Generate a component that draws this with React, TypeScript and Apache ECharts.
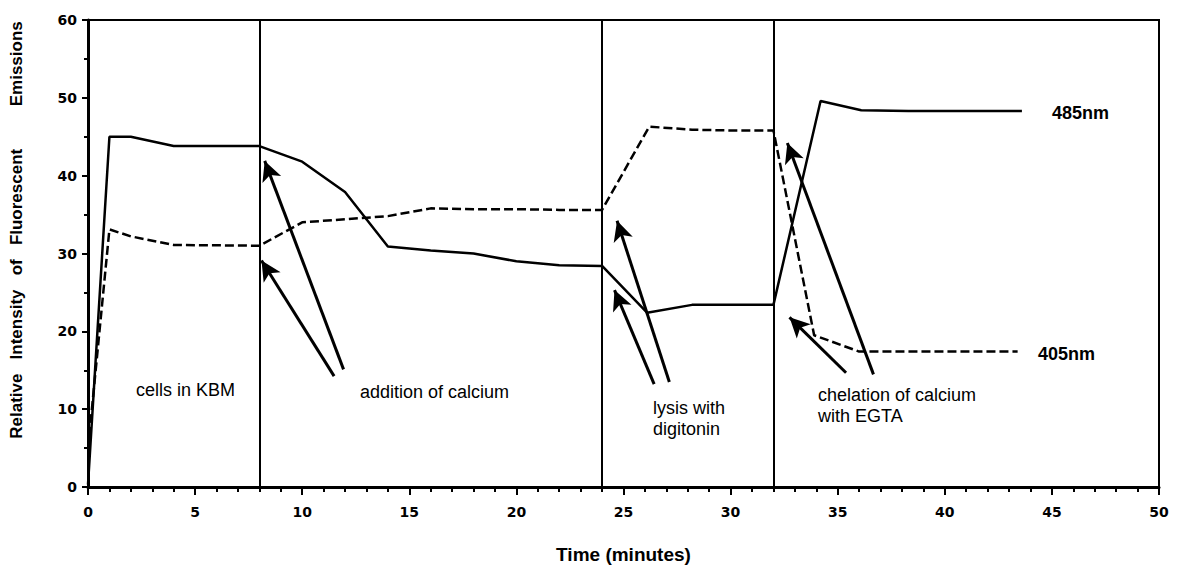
import React, { useEffect, useRef } from "react";
import * as echarts from "echarts";

// 485 nm emission (solid line)
const time485 = [0, 1, 2, 4, 8, 10, 12, 14, 16, 18, 20, 22, 24, 26.1, 28.2, 32, 34.2, 36.1, 38.3, 40.3, 42.1, 43.6];
const intensity485 = [0.3, 45, 45, 43.8, 43.8, 41.8, 37.9, 30.9, 30.4, 30, 29, 28.5, 28.4, 22.4, 23.4, 23.4, 49.6, 48.4, 48.3, 48.3, 48.3, 48.3];

// 405 nm emission (dashed line)
const time405 = [0, 1, 2, 4, 8, 10, 12, 14, 16, 18, 20, 22, 24, 26.2, 28.2, 30.2, 32, 33.9, 36, 38, 40, 42, 43.4];
const intensity405 = [4.9, 33.1, 32.2, 31.1, 31, 34, 34.4, 34.8, 35.8, 35.7, 35.7, 35.6, 35.6, 46.3, 45.9, 45.8, 45.8, 19.5, 17.4, 17.4, 17.4, 17.4, 17.4];

// experimental events (minutes)
const eventTimes = [8, 24, 32];

// annotation arrows: tail -> tip, in data units
const arrowTails = [
  [11.93, 15.11],
  [11.49, 14.25],
  [27.14, 13.48],
  [26.43, 13.22],
  [36.67, 14.47],
  [35.39, 14.68],
];
const arrowTips = [
  [8.25, 41.9],
  [8.1, 29.1],
  [24.7, 34.2],
  [24.58, 25.3],
  [32.65, 44.2],
  [32.75, 21.8],
];

const xMin = 0;
const xMax = 50;
const xInterval = 5;
const yMin = 0;
const yMax = 60;
const yInterval = 10;

const yTitle =
  "Relative\u00A0\u00A0\u00A0Intensity\u00A0\u00A0\u00A0of\u00A0\u00A0\u00A0Fluorescent\u00A0\u00A0\u00A0\u00A0\u00A0\u00A0\u00A0\u00A0\u00A0Emissions";
const xTitle = "Time (minutes)";

const zip = (xs: number[], ys: number[]) => xs.map((x, i) => [x, ys[i]]);

export default function App() {
  const ref = useRef<HTMLDivElement>(null);
  useEffect(() => {
    document.body.style.margin = "0";
    const chart = echarts.init(ref.current!, null, { renderer: "svg" });
    const annoFont = { fontFamily: "Liberation Sans", fontSize: 18, fill: "#000" };
    chart.setOption({
      animation: false,
      backgroundColor: "#fff",
      grid: {
        left: 88,
        right: 27,
        top: 20,
        bottom: 81,
        show: true,
        borderColor: "#000",
        borderWidth: 2,
        backgroundColor: "transparent",
      },
      xAxis: {
        type: "value",
        min: xMin,
        max: xMax,
        interval: xInterval,
        axisLine: { show: true, onZero: false, lineStyle: { color: "#000", width: 3 } },
        axisTick: { show: true, length: 8, lineStyle: { color: "#000", width: 2 } },
        minorTick: { show: true, splitNumber: 5, length: 5, lineStyle: { color: "#000", width: 2 } },
        splitLine: { show: false },
        minorSplitLine: { show: false },
        axisLabel: { color: "#000", fontFamily: "DejaVu Sans", fontWeight: "bold", fontSize: 14, margin: 18 },
        name: xTitle,
        nameLocation: "middle",
        nameGap: 58,
        nameTextStyle: { color: "#000", fontFamily: "Liberation Sans", fontWeight: "bold", fontSize: 19 },
      },
      yAxis: {
        type: "value",
        min: yMin,
        max: yMax,
        interval: yInterval,
        axisLine: { show: true, onZero: false, lineStyle: { color: "#000", width: 3 } },
        axisTick: { show: true, length: 6, lineStyle: { color: "#000", width: 2 } },
        minorTick: { show: true, splitNumber: 2, length: 4, lineStyle: { color: "#000", width: 2 } },
        splitLine: { show: false },
        minorSplitLine: { show: false },
        axisLabel: { color: "#000", fontFamily: "DejaVu Sans", fontWeight: "bold", fontSize: 14, margin: 11 },
      },
      series: [
        {
          type: "line",
          name: "485nm",
          data: zip(time485, intensity485),
          symbol: "none",
          lineStyle: { color: "#000", width: 2.5 },
          z: 3,
          markLine: {
            silent: true,
            symbol: ["none", "none"],
            label: { show: false },
            emphasis: { disabled: true },
            lineStyle: { color: "#000", width: 2, type: "solid" },
            data: eventTimes.map((t) => ({ xAxis: t })),
          },
        },
        {
          type: "line",
          name: "405nm",
          data: zip(time405, intensity405),
          symbol: "none",
          lineStyle: { color: "#000", width: 2.5, type: [9, 4] },
          z: 3,
          markLine: {
            silent: true,
            symbol: ["none", "arrow"],
            symbolSize: [15, 20],
            label: { show: false },
            emphasis: { disabled: true },
            lineStyle: { color: "#000", width: 3, type: "solid" },
            data: arrowTails.map((t, i) => [{ coord: t }, { coord: arrowTips[i] }]),
          },
        },
      ],
      graphic: [
        {
          type: "text",
          x: 16,
          y: 230,
          rotation: Math.PI / 2,
          style: {
            text: yTitle,
            fontFamily: "Liberation Sans",
            fontWeight: "bold",
            fontSize: 17,
            fill: "#000",
            align: "center",
            verticalAlign: "middle",
          },
        },
        { type: "text", x: 136, y: 390, style: { ...annoFont, text: "cells in KBM", verticalAlign: "middle" } },
        { type: "text", x: 360, y: 392, style: { ...annoFont, text: "addition of calcium", verticalAlign: "middle" } },
        {
          type: "text",
          x: 653,
          y: 397,
          style: { ...annoFont, text: "lysis with\ndigitonin", lineHeight: 21.5, verticalAlign: "top" },
        },
        {
          type: "text",
          x: 818,
          y: 384,
          style: { ...annoFont, text: "chelation of calcium\nwith EGTA", lineHeight: 21.5, verticalAlign: "top" },
        },
        {
          type: "text",
          x: 1052,
          y: 113,
          style: { ...annoFont, fontWeight: "bold", text: "485nm", verticalAlign: "middle" },
        },
        {
          type: "text",
          x: 1038,
          y: 354,
          style: { ...annoFont, fontWeight: "bold", text: "405nm", verticalAlign: "middle" },
        },
      ],
    });
    return () => chart.dispose();
  }, []);
  return <div ref={ref} style={{ width: 1186, height: 569 }} />;
}
